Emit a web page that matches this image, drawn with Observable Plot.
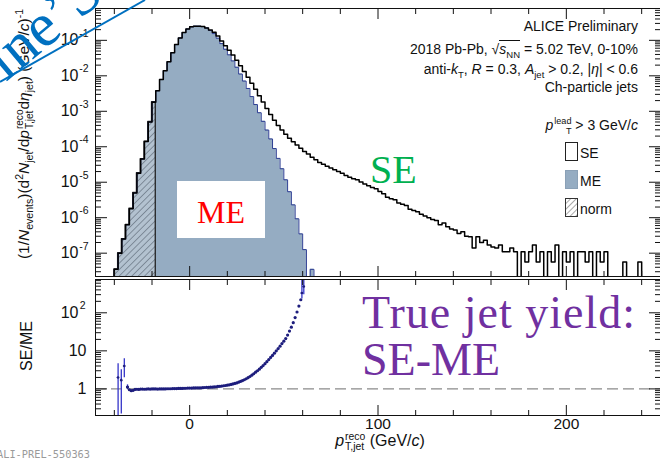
<!DOCTYPE html>
<html><head><meta charset="utf-8">
<script src="https://cdn.jsdelivr.net/npm/d3@7"></script>
<script src="https://cdn.jsdelivr.net/npm/@observablehq/plot@0.6"></script>
<style>
html,body{margin:0;padding:0;background:#fff;}
#wrap{position:relative;width:660px;height:458px;overflow:hidden;font-family:"Liberation Sans",Arial,sans-serif;color:#111;}
#top,#bot{position:absolute;left:0;}
#top{top:0;} #bot{top:278px;}
.lbl{position:absolute;white-space:nowrap;line-height:1;}
sub,sup{font-size:68%;line-height:0;}
.st{display:inline-block;vertical-align:-4px;font-size:65%;line-height:10px;margin-left:1px;}
.st span{display:block;}
.lg{position:absolute;right:22px;white-space:nowrap;font-size:14px;line-height:14px;text-align:right;}
.ov{border-top:1px solid #111;}
.serif{font-family:"Liberation Serif","Times New Roman",serif;}
</style></head>
<body>
<svg width="0" height="0" style="position:absolute">
<defs>
<pattern id="hatch" patternUnits="userSpaceOnUse" width="4.5" height="4.5" patternTransform="rotate(45)">
<rect width="4.5" height="4.5" fill="#b3c2d0"/>
<line x1="0" y1="0" x2="0" y2="4.5" stroke="#4a5563" stroke-width="1"/>
</pattern>
<pattern id="hatchLeg" patternUnits="userSpaceOnUse" width="4" height="4" patternTransform="rotate(45)">
<rect width="4" height="4" fill="#fff"/>
<line x1="0" y1="0" x2="0" y2="4" stroke="#555" stroke-width="1"/>
</pattern>
</defs>
</svg>
<div id="wrap">
<div id="top"></div>
<div id="bot"></div>
</div>
<script>
// ---------------- data ----------------
const binStart = -50, binWidth = 2;
// SE (same event) yield per 2 GeV bin, bins from -50 to 250
const seVals = [
  0,0,0,0,0,3.5e-8,1.0e-7,2.5e-7,6.3e-7,1.8e-6,
  5.0e-6,1.8e-5,4.5e-5,1.4e-4,5.0e-4,1.8e-3,3.8e-3,7.9e-3,1.4e-2,2.5e-2,
  4.5e-2,7.6e-2,0.117,0.166,0.209,0.240,0.251,0.251,0.245,0.224,
  0.195,0.170,0.132,0.0955,0.0708,0.0525,0.0389,0.0275,0.0191,0.0132,
  9.1e-3,6.2e-3,4.2e-3,2.75e-3,1.82e-3,1.2e-3,8.1e-4,5.6e-4,4.0e-4,2.95e-4,
  2.24e-4,1.74e-4,1.38e-4,1.12e-4,9.1e-5,7.4e-5,6.2e-5,5.1e-5,4.3e-5,3.6e-5,
  3.2e-5,2.8e-5,2.5e-5,2.24e-5,2.0e-5,1.78e-5,1.55e-5,1.38e-5,1.26e-5,1.17e-5,
  1.02e-5,8.9e-6,7.9e-6,7.1e-6,6.5e-6,5.5e-6,4.7e-6,3.8e-6,3.4e-6,3.2e-6,
  2.6e-6,2.4e-6,2.2e-6,1.74e-6,1.6e-6,1.48e-6,1.26e-6,1.12e-6,1.0e-6,8.9e-7,
  8.3e-7,6.3e-7,7.1e-7,5.6e-7,4.8e-7,4.5e-7,3.6e-7,4.0e-7,3.0e-7,2.9e-7,
  1.4e-7,2.9e-7,2.0e-7,2.3e-7,1.7e-7,1.5e-7,1.4e-7,1.7e-7,1.1e-7,1.1e-7,
  1.4e-7,1.1e-7,0,1.1e-7,5.6e-8,1.1e-7,1.7e-7,5.6e-8,1.1e-7,0,
  1.1e-7,5.6e-8,1.7e-7,0,1.1e-7,5.6e-8,1.1e-7,0,1.1e-7,1.1e-7,
  5.6e-8,1.1e-7,0,1.1e-7,5.6e-8,1.1e-7,0,0,0,0,
  5.6e-8,0,0,0,5.6e-8,0,0,0,0,0
];
// ME (mixed event) yield per 2 GeV bin, bins from -40 to 66
const meStart = -40;
const meVals = [
  3.5e-8,1.0e-7,2.5e-7,6.3e-7,1.8e-6,5.0e-6,1.8e-5,4.5e-5,1.4e-4,5.0e-4,
  1.8e-3,3.8e-3,7.9e-3,1.4e-2,2.5e-2,4.5e-2,7.6e-2,0.117,0.166,0.209,
  0.240,0.251,0.251,0.245,0.224,
  0.19,0.155,0.115,0.081,0.056,0.039,0.0263,0.0174,0.0112,7.1e-3,
  4.4e-3,2.6e-3,1.55e-3,9.1e-4,5.2e-4,2.95e-4,1.66e-4,8.9e-5,4.7e-5,2.4e-5,
  1.17e-5,5.4e-6,2.3e-6,9.3e-7,3.5e-7,1.26e-7,0,3.5e-8
];
// normalisation region
const normLo = -40, normHi = -18;
// SE/ME ratio, 1 GeV points from -33 to 59
const ratioStart = -33, ratioStep = 1;
const ratioVals = [
  1.12,0.95,0.90,0.92,0.97,0.98,0.97,0.99,0.99,0.98,
  0.99,1.0,0.99,1.0,1.0,1.0,0.99,1.0,1.0,1.0,
  1.0,1.01,1.01,1.01,1.02,1.02,1.02,1.03,1.03,1.03,
  1.04,1.04,1.05,1.05,1.05,1.06,1.06,1.07,1.06,1.07,
  1.08,1.09,1.10,1.10,1.11,1.12,1.13,1.14,1.16,1.17,
  1.19,1.21,1.23,1.25,1.28,1.31,1.35,1.39,1.44,1.50,
  1.57,1.65,1.74,1.85,1.97,2.12,2.30,2.50,2.75,3.0,
  3.3,3.7,4.1,4.6,5.2,5.9,6.7,7.6,8.7,10,
  11.5,13.3,15.5,18,21,26,33,42,55,75,
  105,150,220
];
// ratio points with visible error bars
const errX  = [-38, -36.3, -34.7, -33, 59.6, 60.6];
const errY  = [2.0, 1.7, 4.0, 1.12, 330, 490];
const errLo = [0.1, 0.22, 1.95, 0.97, 230, 300];
const errHi = [4.6, 3.2, 6.2, 1.28, 3000, 3000];
// axes
const xDomain = [-50, 250];
const xMajor = [0, 100, 200];
const xMinor = [-40,-20,20,40,60,80,120,140,160,180,220,240];
const yDomainTop = [2.2e-8, 0.79];
const yMajorTop = [1e-7,1e-6,1e-5,1e-4,1e-3,1e-2,1e-1];
const yDomainBot = [0.2, 750];
const yPlainBot = [1, 10];       // labels "1", "10"
const yPowBot = [100];           // label "10" with superscript "2"

// ---------------- build ----------------
const FLOOR = 1e-12;
const fl = v => (v > 0 ? v : FLOOR);
const seRows = seVals.map((v, i) => ({x: binStart + i * binWidth, v: fl(v)}));
seRows.push({x: binStart + seVals.length * binWidth, v: fl(seVals[seVals.length - 1])});
const meEnd = meStart + meVals.length * binWidth;
const meRows = [{x: meStart, v: FLOOR}].concat(
  meVals.map((v, i) => ({x: meStart + i * binWidth, v: fl(v)})),
  [{x: meEnd, v: fl(meVals[meVals.length - 1])}, {x: meEnd, v: FLOOR}]
);
const normRows = seRows.filter(d => d.x >= normLo && d.x < normHi);
normRows.push({x: normHi, v: normRows[normRows.length - 1].v});
const ratioRows = ratioVals.map((v, i) => ({x: ratioStart + i * ratioStep, y: v}));
const errRows = errX.map((x, i) => ({x, y: errY[i], lo: errLo[i], hi: errHi[i], xl: x - 0.5, xh: x + 0.5}));

function logMinor(domain) {
  const out = [];
  for (let k = -9; k <= 3; k++) for (let m = 2; m <= 9; m++) {
    const v = m * Math.pow(10, k);
    if (v >= domain[0] && v <= domain[1]) out.push(v);
  }
  return out;
}
const yMinorTop = logMinor(yDomainTop);
const yMinorBot = logMinor(yDomainBot);
const yMajorBot = yPlainBot.concat(yPowBot);

function frameTicks(yMaj, yMin) {
  const s = {stroke: "#111", strokeWidth: 1, fill: "none", label: null};
  return [
    Plot.axisY(yMaj, {...s, anchor: "left", tickSize: -12}),
    Plot.axisY(yMin, {...s, anchor: "left", tickSize: -6}),
    Plot.axisY(yMaj, {...s, anchor: "right", tickSize: -12}),
    Plot.axisY(yMin, {...s, anchor: "right", tickSize: -6}),
    Plot.axisX(xMajor, {...s, anchor: "bottom", tickSize: -10}),
    Plot.axisX(xMinor, {...s, anchor: "bottom", tickSize: -5}),
    Plot.axisX(xMajor, {...s, anchor: "top", tickSize: -10}),
    Plot.axisX(xMinor, {...s, anchor: "top", tickSize: -5})
  ];
}
const style = {fontFamily: "Liberation Sans, Arial, sans-serif", fontSize: "16px", color: "#111", background: "transparent", overflow: "visible"};

const topPlot = Plot.plot({
  width: 660, height: 278, marginLeft: 95, marginRight: 0, marginTop: 8, marginBottom: 2,
  style,
  x: {domain: xDomain, axis: null},
  y: {type: "log", domain: yDomainTop, axis: null},
  marks: [
    Plot.areaY(meRows, {x: "x", y1: FLOOR, y2: "v", curve: "step-after", fill: "#95acc2", clip: true}),
    Plot.areaY(normRows, {x: "x", y1: FLOOR, y2: "v", curve: "step-after", fill: "url(#hatch)", stroke: "#222", strokeWidth: 1.3, clip: true}),
    Plot.line(meRows, {x: "x", y: "v", curve: "step-after", stroke: "#2c3d92", strokeWidth: 1, clip: true}),
    Plot.line(seRows, {x: "x", y: "v", curve: "step-after", stroke: "#000", strokeWidth: 1.5, clip: true}),
    ...frameTicks(yMajorTop, yMinorTop),
    Plot.frame({stroke: "#111", strokeWidth: 1}),
    Plot.text(yMajorTop, {y: d => d, text: () => "10", frameAnchor: "left", dx: -17, textAnchor: "end", fontSize: 16}),
    Plot.text(yMajorTop, {y: d => d, text: d => "-" + Math.round(-Math.log10(d)), frameAnchor: "left", dx: -7, dy: -7, textAnchor: "end", fontSize: 10.5})
  ]
});
document.getElementById("top").appendChild(topPlot);

const botPlot = Plot.plot({
  width: 660, height: 180, marginLeft: 95, marginRight: 0, marginTop: 1, marginBottom: 43,
  style,
  x: {domain: xDomain, axis: null},
  y: {type: "log", domain: yDomainBot, axis: null},
  marks: [
    Plot.ruleY([1], {stroke: "#8a8a8a", strokeDasharray: "11,5", strokeWidth: 1.3}),
    Plot.ruleX(errRows, {x: "x", y1: "lo", y2: "hi", stroke: "#3434c8", strokeWidth: 1.3, clip: true}),
    Plot.ruleY(errRows, {y: "y", x1: "xl", x2: "xh", stroke: "#3434c8", strokeWidth: 1, clip: true}),
    Plot.dot(ratioRows, {x: "x", y: "y", r: 1.6, fill: "#1d1d7d", clip: true}),
    Plot.dot(errRows, {x: "x", y: "y", r: 1.3, fill: "#1d1d7d", clip: true}),
    ...frameTicks(yMajorBot, yMinorBot),
    Plot.frame({stroke: "#111", strokeWidth: 1}),
    Plot.text(yPlainBot, {y: d => d, text: d => String(d), frameAnchor: "left", dx: -9, textAnchor: "end", fontSize: 16}),
    Plot.text(yPowBot, {y: d => d, text: () => "10", frameAnchor: "left", dx: -17, textAnchor: "end", fontSize: 16}),
    Plot.text(yPowBot, {y: d => d, text: d => String(Math.round(Math.log10(d))), frameAnchor: "left", dx: -10, dy: -7, textAnchor: "end", fontSize: 10.5}),
    Plot.axisX(xMajor, {anchor: "bottom", tickSize: 0, tickPadding: 2, fontSize: 15.5, label: null, fill: "#111"})
  ]
});
document.getElementById("bot").appendChild(botPlot);
</script>
<script>
const wrap = document.getElementById("wrap");
wrap.insertAdjacentHTML("beforeend", `
<div class="lbl" style="left:25px;top:134px;font-size:15.5px;transform:translate(-50%,-50%) rotate(-90deg);">(1/<i>N</i><sub>events</sub>)(d<sup>2</sup><i>N</i><sub>jet</sub>/d<i>p</i><span class="st"><span>reco</span><span>T,jet</span></span>d<i>η</i><sub>jet</sub>) (GeV/<i>c</i>)<sup>-1</sup></div>
<div class="lbl" style="left:27px;top:346px;font-size:16px;transform:translate(-50%,-50%) rotate(-90deg);">SE/ME</div>
<div class="lbl" style="left:380px;top:432px;font-size:16px;transform:translateX(-50%);"><i>p</i><span class="st"><span>reco</span><span>T,jet</span></span> (GeV/<i>c</i>)</div>
<div class="lbl" style="left:-3px;top:449px;font-size:10.3px;font-family:'DejaVu Sans Mono',monospace;color:#9a9a9a;">ALI-PREL-550363</div>

<div class="lg" style="top:19px;">ALICE Preliminary</div>
<div class="lg" style="top:42px;">2018 Pb-Pb, √<span class="ov"><i>s</i><sub>NN</sub></span> = 5.02 TeV, 0-10%</div>
<div class="lg" style="top:62px;">anti-<i>k</i><sub>T</sub>, <i>R</i> = 0.3, <i>A</i><sub>jet</sub> &gt; 0.2, |<i>η</i>| &lt; 0.6</div>
<div class="lg" style="top:80px;">Ch-particle jets</div>
<div class="lg" style="top:116px;"><i>p</i><span class="st" style="vertical-align:-4px"><span>lead</span><span>T</span></span> &gt; 3 GeV/<i>c</i></div>

<div style="position:absolute;left:565px;top:142px;width:11px;height:17px;border:1px solid #222;background:#fff;"></div>
<div style="position:absolute;left:565px;top:170px;width:11px;height:17px;border:1px solid #8aa0b6;background:#95acc2;"></div>
<svg style="position:absolute;left:565px;top:198px;" width="13" height="19"><rect x="0.5" y="0.5" width="12" height="18" fill="url(#hatchLeg)" stroke="#333"/></svg>
<div class="lbl" style="left:580px;top:146px;font-size:14px;">SE</div>
<div class="lbl" style="left:580px;top:174px;font-size:14px;">ME</div>
<div class="lbl" style="left:580px;top:202px;font-size:14px;">norm</div>

<div style="position:absolute;left:177px;top:181px;width:88px;height:57px;background:#fff;"></div>
<div class="lbl serif" style="left:221px;top:196px;font-size:32px;color:#ff0000;transform:translateX(-50%);">ME</div>
<div class="lbl serif" style="left:370px;top:149.5px;font-size:40px;color:#00b050;">SE</div>
<div class="lbl serif" style="left:362px;top:289.5px;font-size:46px;color:#7030a0;letter-spacing:1px;">True jet yield:</div>
<div class="lbl serif" style="left:362px;top:336.5px;font-size:46px;color:#7030a0;">SE-ME</div>

<svg style="position:absolute;left:0;top:0;" width="660" height="458">
<line x1="0" y1="82" x2="145" y2="0" stroke="#0070c0" stroke-width="2"/>
<text transform="translate(6,82) rotate(-40)" font-family="Liberation Serif, Times New Roman, serif" font-size="62" fill="#0070c0">ine’S</text>
</svg>
`);
</script>
</body></html>
